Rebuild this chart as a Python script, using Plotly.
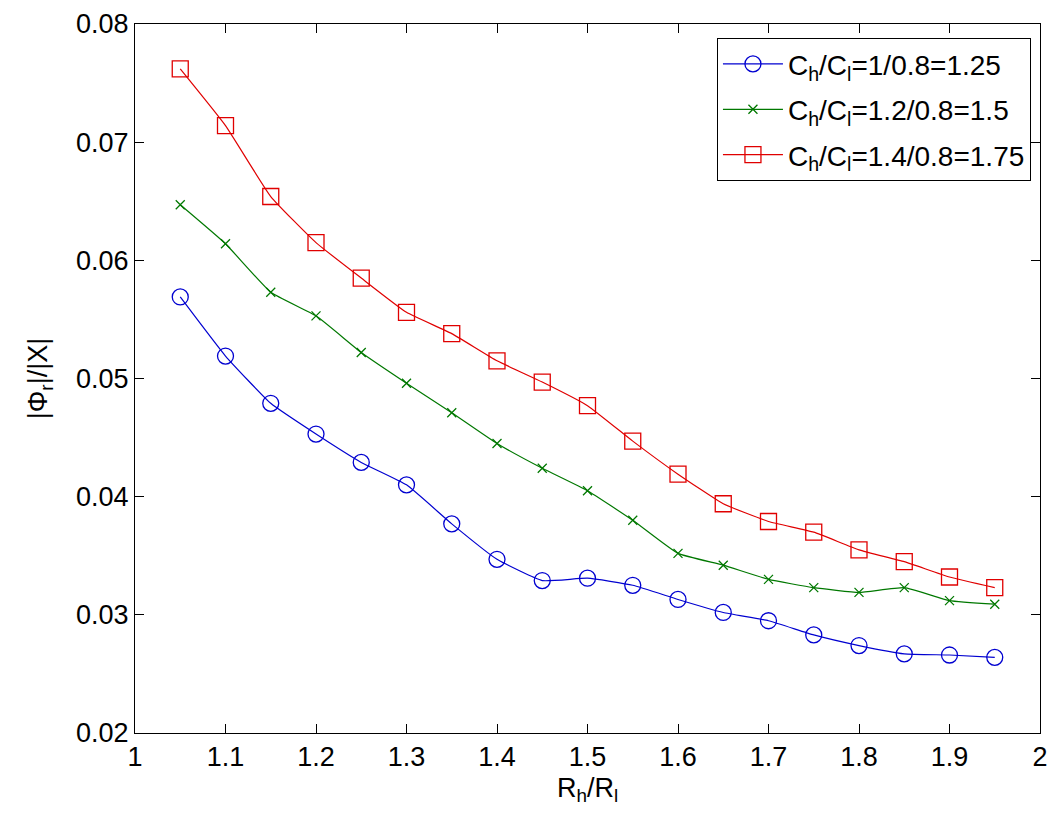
import plotly.graph_objects as go

ratio = [1.05, 1.10, 1.15, 1.20, 1.25, 1.30, 1.35, 1.40, 1.45, 1.50,
         1.55, 1.60, 1.65, 1.70, 1.75, 1.80, 1.85, 1.90, 1.95]

blue_125 = [0.0569, 0.0519, 0.0479, 0.0453, 0.0429, 0.0410, 0.0377, 0.0347, 0.0329, 0.0331,
            0.0325, 0.0313, 0.0302, 0.0295, 0.0283, 0.0274, 0.0267, 0.0266, 0.0264]
green_15 = [0.0647, 0.0614, 0.0573, 0.0553, 0.0522, 0.0496, 0.0471, 0.0445, 0.0424, 0.0405,
            0.0380, 0.0352, 0.0342, 0.0330, 0.0323, 0.0319, 0.0323, 0.0312, 0.0309]
red_175 = [0.0762, 0.0714, 0.0654, 0.0615, 0.0585, 0.0556, 0.0538, 0.0515, 0.0497, 0.0477,
           0.0447, 0.0419, 0.0394, 0.0379, 0.0370, 0.0355, 0.0345, 0.0332, 0.0323]

names = ["C<sub>h</sub>/C<sub>l</sub>=1/0.8=1.25",
         "C<sub>h</sub>/C<sub>l</sub>=1.2/0.8=1.5",
         "C<sub>h</sub>/C<sub>l</sub>=1.4/0.8=1.75"]

x_ticks = [1, 1.1, 1.2, 1.3, 1.4, 1.5, 1.6, 1.7, 1.8, 1.9, 2]
x_tick_text = ["1", "1.1", "1.2", "1.3", "1.4", "1.5", "1.6", "1.7", "1.8", "1.9", "2"]
y_ticks = [0.02, 0.03, 0.04, 0.05, 0.06, 0.07, 0.08]
y_tick_text = ["0.02", "0.03", "0.04", "0.05", "0.06", "0.07", "0.08"]

FONT = "Liberation Sans, Arial, sans-serif"

fig = go.Figure()
series = [
    (blue_125, "#0000d0", "circle-open", 16, "g1"),
    (green_15, "#007800", "x-thin-open", 9, "g2"),
    (red_175, "#e00000", "square-open", 16, "g3"),
]
for (vals, col, sym, sz, grp), nm in zip(series, names):
    fig.add_trace(go.Scatter(
        x=ratio, y=vals, name=nm, mode="lines+markers", legendgroup=grp,
        line=dict(color=col, width=1.2, shape="spline", smoothing=0.4),
        marker=dict(symbol=sym, size=sz, color=col, line=dict(color=col, width=1.3)),
    ))

axis_common = dict(
    showgrid=False, zeroline=False, showline=True, linecolor="black", linewidth=1,
    mirror="ticks", ticks="inside", ticklen=9, tickcolor="black", tickwidth=1,
    tickfont=dict(family=FONT, size=27, color="black"), automargin=False,
    ticklabeloverflow="allow",
)

fig.update_layout(
    width=1062, height=822,
    margin=dict(l=127, r=30, t=16, b=97),
    paper_bgcolor="white", plot_bgcolor="white",
    font=dict(family=FONT, size=27, color="black"),
    xaxis=dict(range=[1, 2], tickvals=x_ticks, ticktext=x_tick_text,
               title=dict(text="R<sub>h</sub>/R<sub>l</sub>", font=dict(size=27), standoff=6),
               **axis_common),
    yaxis=dict(range=[0.02, 0.08], tickvals=y_ticks, ticktext=y_tick_text,
               title=dict(text="|Φ<sub>r</sub>|/|X|", font=dict(size=27), standoff=20),
               **axis_common),
    legend=dict(x=0.99, y=0.98, xanchor="right", yanchor="top",
                bgcolor="white", bordercolor="black", borderwidth=1,
                font=dict(family=FONT, size=28, color="black"),
                tracegroupgap=6, itemwidth=60),
    showlegend=True,
)

fig.write_html("out.html")
